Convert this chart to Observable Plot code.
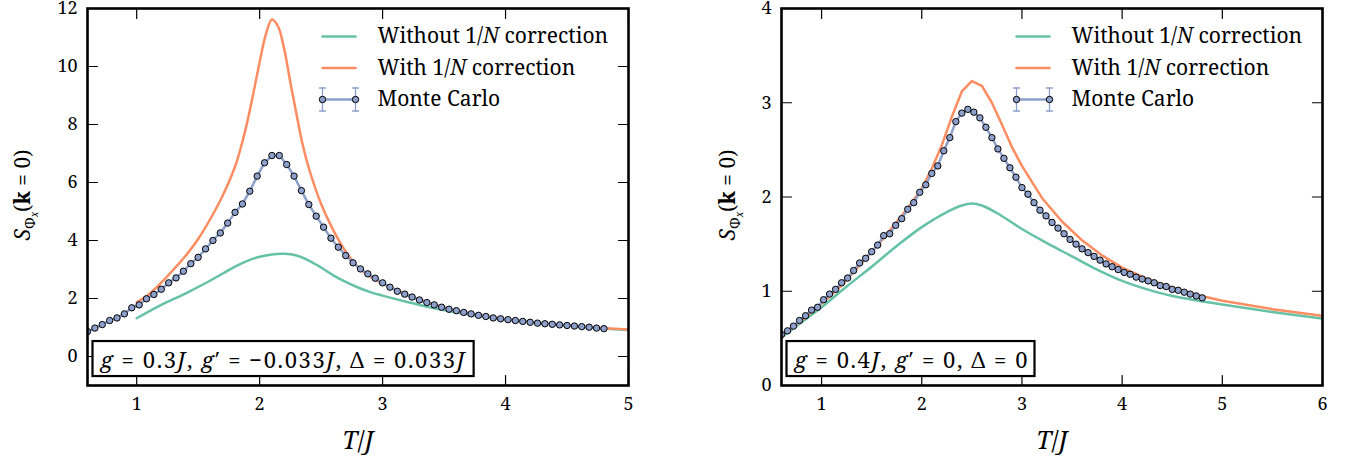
<!DOCTYPE html>
<html>
<head>
<meta charset="utf-8">
<script src="https://cdn.jsdelivr.net/npm/d3@7"></script>
<script src="https://cdn.jsdelivr.net/npm/@observablehq/plot@0.6"></script>
<style>
  html, body { margin: 0; padding: 0; background: white; }
  #wrap { display: flex; width: 1359px; height: 460px; }
</style>
</head>
<body>
<div id="wrap"></div>
<script>
// ---------- Left panel data ----------
const leftXDomain = [0.6, 5];
const leftYDomain = [-1, 12];
const leftXTicks = [1, 2, 3, 4, 5];
const leftYTicks = [0, 2, 4, 6, 8, 10, 12];

const leftMcT = [0.60,0.66,0.72,0.78,0.84,0.90,0.96,1.02,1.08,1.14,1.20,1.26,1.32,1.38,1.44,1.50,1.56,1.62,1.68,1.74,1.80,1.86,1.92,1.98,2.04,2.10,2.16,2.22,2.28,2.34,2.40,2.46,2.52,2.58,2.64,2.70,2.76,2.82,2.88,2.94,3.00,3.06,3.12,3.18,3.24,3.30,3.36,3.42,3.48,3.54,3.60,3.66,3.72,3.78,3.84,3.90,3.96,4.02,4.08,4.14,4.20,4.26,4.32,4.38,4.44,4.50,4.56,4.62,4.68,4.74,4.80];
const leftMcS = [0.86,0.98,1.10,1.24,1.33,1.47,1.68,1.78,1.99,2.14,2.32,2.54,2.71,2.94,3.20,3.42,3.71,4.00,4.26,4.60,4.97,5.26,5.70,6.22,6.68,6.93,6.93,6.62,6.22,5.72,5.24,4.84,4.46,4.08,3.77,3.48,3.23,3.02,2.85,2.70,2.54,2.39,2.25,2.15,2.05,1.95,1.86,1.78,1.70,1.63,1.58,1.52,1.47,1.42,1.38,1.33,1.30,1.27,1.24,1.21,1.18,1.15,1.13,1.11,1.09,1.07,1.05,1.03,1.01,0.98,0.96];

const leftGreenT = [1.0,1.2,1.4,1.6,1.8,1.9,2.0,2.1,2.2,2.3,2.4,2.5,2.6,2.7,2.8,2.9,3.0,3.2,3.4,3.6,3.8,4.0,4.25,4.5,4.75,5.0];
const leftGreenS = [1.32,1.78,2.18,2.62,3.10,3.30,3.44,3.52,3.54,3.48,3.31,3.07,2.80,2.57,2.38,2.22,2.10,1.88,1.68,1.52,1.39,1.28,1.17,1.07,0.98,0.91];

const leftOrangeT = [1.0,1.1,1.2,1.3,1.4,1.5,1.6,1.7,1.8,1.85,1.9,1.95,2.0,2.05,2.1,2.15,2.2,2.25,2.3,2.35,2.4,2.5,2.6,2.7,2.8,2.9,3.0,3.2,3.4,3.6,3.8,4.0,4.25,4.5,4.75,5.0];
const leftOrangeS = [1.87,2.15,2.55,3.00,3.48,4.05,4.75,5.55,6.55,7.25,8.10,9.10,10.15,11.10,11.62,11.38,10.60,9.45,8.35,7.30,6.50,5.26,4.35,3.62,3.08,2.75,2.52,2.13,1.82,1.58,1.42,1.29,1.16,1.07,0.99,0.93];

const leftAnnotation = "g = 0.3J, g′ = −0.033J, Δ = 0.033J";

// ---------- Right panel data ----------
const rightXDomain = [0.6, 6];
const rightYDomain = [0, 4];
const rightXTicks = [1, 2, 3, 4, 5, 6];
const rightYTicks = [0, 1, 2, 3, 4];

const rightMcT = [0.60,0.66,0.72,0.78,0.84,0.90,0.96,1.02,1.08,1.14,1.20,1.26,1.32,1.38,1.44,1.50,1.56,1.62,1.68,1.74,1.80,1.86,1.92,1.98,2.04,2.10,2.16,2.22,2.28,2.34,2.40,2.46,2.52,2.58,2.64,2.70,2.76,2.82,2.88,2.94,3.00,3.06,3.12,3.18,3.24,3.30,3.36,3.42,3.48,3.54,3.60,3.66,3.72,3.78,3.84,3.90,3.96,4.02,4.08,4.14,4.20,4.26,4.32,4.38,4.44,4.50,4.56,4.62,4.68,4.74,4.80];
const rightMcS = [0.54,0.58,0.63,0.69,0.74,0.80,0.83,0.91,0.97,1.02,1.09,1.14,1.22,1.30,1.35,1.42,1.49,1.59,1.61,1.70,1.77,1.87,1.94,2.05,2.13,2.25,2.33,2.49,2.63,2.80,2.89,2.93,2.90,2.84,2.74,2.63,2.51,2.41,2.31,2.21,2.10,2.03,1.94,1.86,1.80,1.73,1.67,1.61,1.55,1.50,1.45,1.41,1.37,1.33,1.29,1.26,1.23,1.20,1.18,1.15,1.13,1.11,1.09,1.06,1.05,1.02,1.01,0.99,0.97,0.95,0.93];

const rightGreenT = [0.6,0.8,1.0,1.25,1.5,1.75,2.0,2.25,2.4,2.5,2.6,2.75,3.0,3.25,3.5,3.75,4.0,4.25,4.5,5.0,5.5,6.0];
const rightGreenS = [0.51,0.67,0.83,1.05,1.26,1.48,1.68,1.84,1.91,1.93,1.91,1.83,1.66,1.51,1.37,1.23,1.11,1.02,0.95,0.86,0.78,0.71];

const rightOrangeT = [0.6,0.8,1.0,1.2,1.4,1.6,1.8,1.9,2.0,2.1,2.2,2.3,2.4,2.5,2.6,2.7,2.8,2.9,3.0,3.1,3.2,3.4,3.6,3.8,4.0,4.25,4.5,4.75,5.0,5.5,6.0];
const rightOrangeS = [0.53,0.69,0.87,1.06,1.30,1.54,1.80,1.94,2.09,2.30,2.55,2.85,3.12,3.23,3.18,3.00,2.77,2.53,2.33,2.16,1.99,1.74,1.54,1.38,1.25,1.13,1.04,0.96,0.90,0.81,0.74];

const rightAnnotation = "g = 0.4J, g′ = 0, Δ = 0";

// ---------- Shared text ----------
const legendLabels = ["Without 1/N correction", "With 1/N correction", "Monte Carlo"];
const xLabel = "T/J";
const yLabel = "SΦx(k = 0)";

const GREEN = "#66c2a5", ORANGE = "#fc8d62", BLUE = "#8da0cb";
const FONT = "'Noto Serif', 'Liberation Serif', serif";

// rich-text segments (italic / bold / subscripts) rendered as real SVG tspans
const rich = {
  "Without 1/N correction": [{t:"Without 1/"},{t:"N",i:1},{t:" correction"}],
  "With 1/N correction": [{t:"With 1/"},{t:"N",i:1},{t:" correction"}],
  "T/J": [{t:"T",i:1},{t:"/"},{t:"J",i:1}],
  "SΦx(k = 0)": [{t:"S",i:1},{t:"Φ",fs:14,dy:5},{t:"x",i:1,fs:10,dy:3},{t:"(",fs:21,dy:-8},{t:"k",b:1},{t:" = 0)"}],
  "g = 0.3J, g′ = −0.033J, Δ = 0.033J": [{t:"g",i:1},{t:" = 0.3"},{t:"J",i:1},{t:", "},{t:"g",i:1},{t:"′ = −0.033"},{t:"J",i:1},{t:", Δ = 0.033"},{t:"J",i:1}],
  "g = 0.4J, g′ = 0, Δ = 0": [{t:"g",i:1},{t:" = 0.4"},{t:"J",i:1},{t:", "},{t:"g",i:1},{t:"′ = 0, Δ = 0"}]
};

const tickShape = { draw(context, l) { context.moveTo(0, 0); context.lineTo(0, -l); } };

function zipTS(T, S) { return T.map((t, i) => ({t, s: S[i]})); }

function panel(cfg) {
  const {width, marginLeft, marginRight, xDomain, yDomain, xTicks, yTicks,
         greenT, greenS, orangeT, orangeS, mcT, mcS, annotation, orangeCurve} = cfg;
  const green = zipTS(greenT, greenS), orange = zipTS(orangeT, orangeS), mc = zipTS(mcT, mcS);
  const TL = 10;
  const legX = 235, legLen = 33, legTextX = 290, legY0 = 28, legStep = 31.5;
  const legendMarks = [];
  legendLabels.forEach((lab, i) => {
    const dy = legY0 + legStep * i;
    const col = i === 0 ? GREEN : i === 1 ? ORANGE : BLUE;
    legendMarks.push(Plot.vector([lab], {frameAnchor: "top-left", dx: legX, dy, length: legLen, rotate: 90, anchor: "start", shape: tickShape, stroke: col, strokeWidth: 2.5}));
    if (i === 2) {
      for (const ex of [legX, legX + legLen]) {
        legendMarks.push(Plot.vector([lab], {frameAnchor: "top-left", dx: ex, dy, length: 23, rotate: 0, anchor: "middle", shape: tickShape, stroke: BLUE, strokeWidth: 1.3}));
        legendMarks.push(Plot.vector([lab], {frameAnchor: "top-left", dx: ex, dy: dy - 11.5, length: 6, rotate: 90, anchor: "middle", shape: tickShape, stroke: BLUE, strokeWidth: 1.3}));
        legendMarks.push(Plot.vector([lab], {frameAnchor: "top-left", dx: ex, dy: dy + 11.5, length: 6, rotate: 90, anchor: "middle", shape: tickShape, stroke: BLUE, strokeWidth: 1.3}));
        legendMarks.push(Plot.dot([lab], {frameAnchor: "top-left", dx: ex, dy, r: 3.2, fill: BLUE, stroke: "black", strokeWidth: 1}));
      }
    }
    legendMarks.push(Plot.text([lab], {frameAnchor: "top-left", dx: legTextX, dy, textAnchor: "start", lineAnchor: "middle", fontSize: 21, fill: "black"}));
  });

  return Plot.plot({
    width, height: 460,
    marginLeft, marginRight, marginTop: 8, marginBottom: 75,
    x: {domain: xDomain},
    y: {domain: yDomain},
    style: {fontFamily: FONT, fontSize: "18px", color: "black", background: "white", overflow: "visible"},
    marks: [
      Plot.axisX(xTicks, {tickSize: 0, tickPadding: 12, fontSize: 18, label: null, tickFormat: d => String(d), fontFamily: FONT}),
      Plot.axisY(yTicks, {tickSize: 0, tickPadding: 10, fontSize: 18, label: null, tickFormat: d => String(d), fontFamily: FONT}),
      Plot.line(green, {x: "t", y: "s", stroke: GREEN, strokeWidth: 2.5, curve: "catmull-rom", clip: true}),
      Plot.line(orange, {x: "t", y: "s", stroke: ORANGE, strokeWidth: 2.5, curve: orangeCurve, clip: true}),
      Plot.line(mc, {x: "t", y: "s", stroke: BLUE, strokeWidth: 2.5, clip: true}),
      Plot.dot(mc, {x: "t", y: "s", r: 3.2, fill: BLUE, stroke: "black", strokeWidth: 1, clip: true}),
      // inward ticks on all four sides
      Plot.vector(xTicks, {x: d => d, y: yDomain[0], length: TL, rotate: 0, anchor: "start", shape: tickShape, stroke: "black", strokeWidth: 1.2}),
      Plot.vector(xTicks, {x: d => d, y: yDomain[1], length: TL, rotate: 180, anchor: "start", shape: tickShape, stroke: "black", strokeWidth: 1.2}),
      Plot.vector(yTicks, {x: xDomain[0], y: d => d, length: TL, rotate: 90, anchor: "start", shape: tickShape, stroke: "black", strokeWidth: 1.2}),
      Plot.vector(yTicks, {x: xDomain[1], y: d => d, length: TL, rotate: -90, anchor: "start", shape: tickShape, stroke: "black", strokeWidth: 1.2}),
      Plot.frame({stroke: "black", strokeWidth: 2.6}),
      ...legendMarks,
      Plot.text([annotation], {frameAnchor: "bottom-left", dx: 13, dy: -25, textAnchor: "start", lineAnchor: "middle", fontSize: 22, fill: "black"}),
      Plot.text([xLabel], {frameAnchor: "bottom", dy: 55, lineAnchor: "middle", fontSize: 25, fill: "black"}),
      Plot.text([yLabel], {frameAnchor: "left", dx: -60, rotate: -90, textAnchor: "start", lineAnchor: "middle", fontSize: 21, fill: "black"})
    ]
  });
}

// finish the texts: rich tspans, y-label placement, annotation width and box
function applyRich(svg, annoWidth, yLabelCenter) {
  const sr = svg.getBoundingClientRect();
  d3.select(svg).selectAll("text").each(function () {
    const key = this.textContent;
    const segs = rich[key];
    if (!segs) return;
    const el = d3.select(this);
    el.text(null);
    for (const s of segs) {
      const ts = el.append("tspan").text(s.t);
      if (s.i) ts.attr("font-style", "italic");
      if (s.b) ts.attr("font-weight", "bold");
      if (s.fs) ts.attr("font-size", s.fs);
      if (s.dy) ts.attr("dy", s.dy);
    }
    if (key === yLabel) {
      // rotated label, start-anchored, so that its middle sits on yLabelCenter (svg coordinates)
      const g = this.closest("g");
      g.removeAttribute("transform");
      g.setAttribute("text-anchor", "start");
      const L = this.getComputedTextLength();
      el.attr("x", null).attr("y", null).attr("dy", "0.35em")
        .attr("text-anchor", "start")
        .attr("transform", `translate(${yLabelCenter[0]},${yLabelCenter[1] + L / 2}) rotate(-90)`);
    }
    if (key === leftAnnotation || key === rightAnnotation) {
      this.setAttribute("textLength", annoWidth);
      this.setAttribute("lengthAdjust", "spacing");
      const b = this.getBoundingClientRect();
      const cy = b.top + b.height / 2 - sr.top;
      const rect = document.createElementNS("http://www.w3.org/2000/svg", "rect");
      rect.setAttribute("x", b.left - sr.left - 7);
      rect.setAttribute("y", cy - 17.5);
      rect.setAttribute("width", b.width + 14);
      rect.setAttribute("height", 35);
      rect.setAttribute("fill", "white");
      rect.setAttribute("stroke", "black");
      rect.setAttribute("stroke-width", 2.2);
      const g = this.closest("g");
      g.parentNode.insertBefore(rect, g);
    }
  });
}

const wrap = document.getElementById("wrap");
const left = panel({
  width: 680, marginLeft: 87, marginRight: 52,
  xDomain: leftXDomain, yDomain: leftYDomain, xTicks: leftXTicks, yTicks: leftYTicks,
  greenT: leftGreenT, greenS: leftGreenS, orangeT: leftOrangeT, orangeS: leftOrangeS,
  mcT: leftMcT, mcS: leftMcS, annotation: leftAnnotation, orangeCurve: "catmull-rom"
});
const right = panel({
  width: 679, marginLeft: 101, marginRight: 37,
  xDomain: rightXDomain, yDomain: rightYDomain, xTicks: rightXTicks, yTicks: rightYTicks,
  greenT: rightGreenT, greenS: rightGreenS, orangeT: rightOrangeT, orangeS: rightOrangeS,
  mcT: rightMcT, mcS: rightMcS, annotation: rightAnnotation, orangeCurve: "linear"
});
wrap.appendChild(left);
wrap.appendChild(right);
applyRich(left, 364, [23, 195]);
applyRich(right, 233, [48, 195]);
</script>
</body>
</html>
